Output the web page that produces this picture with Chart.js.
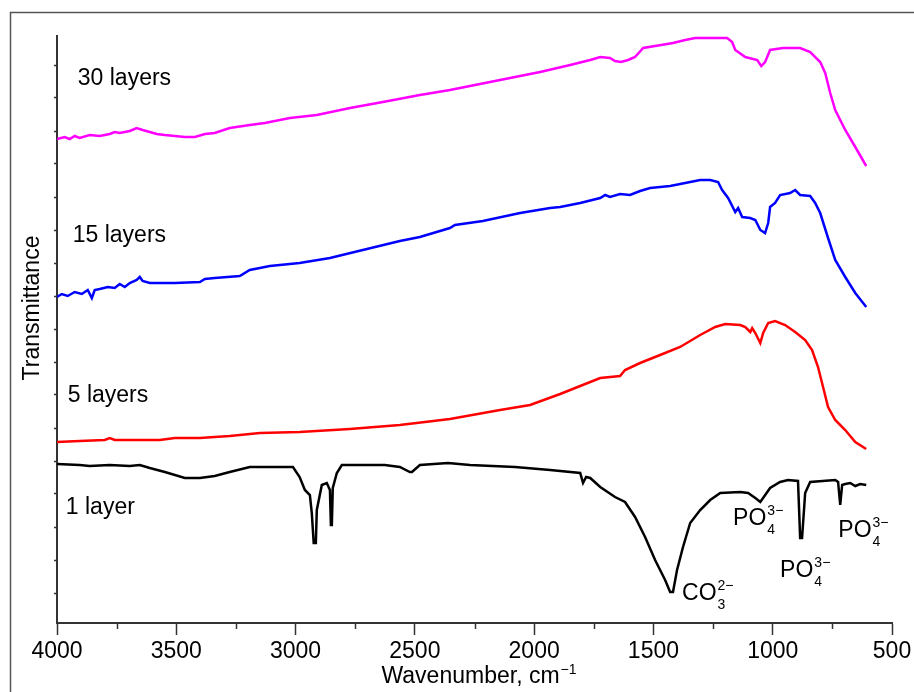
<!DOCTYPE html>
<html>
<head>
<meta charset="utf-8">
<title>FTIR spectra</title>
<script src="https://cdn.jsdelivr.net/npm/chart.js@4.4.1/dist/chart.umd.min.js"></script>
<style>
  html, body { margin: 0; padding: 0; background: #fff; overflow: hidden; width: 914px; height: 692px; }
  #wrap { position: absolute; left: 0; top: 0; width: 960px; height: 692px; }
</style>
</head>
<body>
<div id="wrap"><canvas id="c" width="960" height="692"></canvas></div>
<script>
// Wavenumber (cm-1) and offset transmittance (a.u.) for each coating
const wn30 = [4000,3968,3947,3926,3905,3863,3821,3779,3758,3737,3695,3666,3641,3611,3582,3548,3506,3464,3422,3380,3339,3276,3192,3129,3024,2911,2772,2634,2479,2353,2227,2101,1975,1849,1765,1723,1682,1661,1636,1606,1577,1543,1493,1418,1367,1325,1262,1191,1170,1157,1115,1065,1048,1032,1011,957,885,843,801,780,759,738,696,654,608];
const t30  = [484,486,484,487,485,488,487,489,491,490,492,495,493,491,489,488,487,486,486,489,490,495,498,500,505,508,515,521,528,533,539,545,551,558,563,566,565,562,561,563,566,575,577,580,583,585,585,585,581,573,566,563,557,561,573,575,575,571,561,550,530,513,493,476,457];

const wn15 = [4000,3980,3955,3926,3896,3871,3854,3842,3821,3787,3758,3737,3716,3695,3666,3653,3641,3611,3569,3506,3401,3380,3339,3234,3192,3108,2983,2856,2701,2563,2479,2353,2332,2215,2059,1933,1891,1807,1723,1702,1682,1640,1598,1556,1514,1472,1430,1388,1346,1304,1262,1229,1212,1187,1157,1145,1128,1094,1073,1052,1032,1019,1011,990,969,927,906,885,843,822,801,768,738,696,654,608];
const t15  = [326,329,327,331,329,333,325,333,334,336,335,339,336,340,343,346,342,340,340,340,341,344,345,347,353,357,360,365,374,382,386,395,398,402,410,415,416,420,425,428,426,429,428,432,435,436,437,439,441,443,443,441,433,425,411,415,406,405,403,393,390,400,416,420,428,430,433,428,427,420,410,385,363,346,330,316];

const wn5 = [4000,3905,3800,3779,3758,3569,3506,3401,3276,3150,2983,2772,2563,2353,2143,2017,1891,1807,1723,1640,1619,1556,1472,1388,1304,1241,1199,1136,1115,1094,1086,1073,1052,1040,1019,990,948,906,864,835,810,789,768,738,696,654,608];
const t5  = [181,182,183,185,183,183,185,185,187,190,191,194,198,204,213,218,229,237,245,247,253,260,268,276,288,296,299,298,296,291,295,290,280,290,300,302,298,291,283,273,256,236,216,203,193,181,174];

const wn1 = [4000,3905,3863,3779,3695,3653,3611,3548,3464,3401,3339,3276,3192,3011,2983,2961,2940,2932,2924,2915,2911,2890,2869,2856,2852,2848,2844,2827,2806,2626,2563,2521,2512,2479,2361,2269,2080,1933,1807,1795,1782,1765,1723,1661,1619,1577,1535,1493,1451,1430,1418,1401,1376,1346,1304,1262,1220,1136,1103,1073,1052,1011,969,936,894,885,877,864,843,738,726,717,709,696,675,654,633,608];
const t1  = [159,158,157,158,157,158,155,151,145,145,147,151,156,156,146,133,128,110,80,80,113,138,140,133,98,98,135,150,158,158,156,151,151,158,160,158,156,153,150,140,146,145,136,126,121,106,86,63,43,31,31,53,76,100,113,123,130,131,130,125,121,135,141,143,142,85,85,130,141,143,141,118,138,139,140,137,139,138];

const xTicks = [4000,3500,3000,2500,2000,1500,1000,500];
const xMinor = [3750,3250,2750,2250,1750,1250,750];

const seriesNames = ['30 layers','15 layers','5 layers','1 layer'];
const seriesColors = ['#ff00ff','#0000ff','#ff0000','#000000'];
// where each series name sits (wavenumber, transmittance)
const nameWn = [3913,3934,3955,3963];
const nameT  = [544,387,227,115];

// band assignments: main text, subscript, superscript, anchor
const bandMain = ['CO','PO','PO','PO'];
const bandSub  = ['3','4','4','4'];
const bandSup  = ['2\u2212','3\u2212','3\u2212','3\u2212'];
const bandWn   = [1380,1166,969,725];
const bandT    = [29,104,52,92];

const FONT = '"Liberation Sans", Arial, Helvetica, sans-serif';

function pts(xs, ys) { return xs.map((v, i) => ({ x: v, y: ys[i] })); }

const frame = {
  id: 'frame',
  beforeDraw(chart) {
    const { ctx } = chart;
    ctx.save();
    ctx.strokeStyle = '#555';
    ctx.lineWidth = 1.5;
    ctx.beginPath();
    ctx.moveTo(10.5, 700);
    ctx.lineTo(10.5, 12.5);
    ctx.lineTo(960, 12.5);
    ctx.stroke();
    ctx.restore();
  }
};

const annotate = {
  id: 'annotate',
  afterDraw(chart) {
    const { ctx, scales: { x, y } } = chart;
    ctx.save();
    // minor ticks on the wavenumber axis
    ctx.strokeStyle = '#333';
    ctx.lineWidth = 1.5;
    const yb = y.getPixelForValue(0);
    xMinor.forEach(v => {
      const px = Math.round(x.getPixelForValue(v)) + 0.5;
      ctx.beginPath();
      ctx.moveTo(px, yb);
      ctx.lineTo(px, yb + 6);
      ctx.stroke();
    });

    ctx.fillStyle = '#000';
    ctx.textBaseline = 'middle';
    ctx.textAlign = 'left';
    ctx.font = '23px ' + FONT;
    seriesNames.forEach((n, i) => {
      ctx.fillText(n, x.getPixelForValue(nameWn[i]), y.getPixelForValue(nameT[i]));
    });

    bandMain.forEach((m, i) => {
      const px = x.getPixelForValue(bandWn[i]);
      const py = y.getPixelForValue(bandT[i]);
      ctx.font = '23px ' + FONT;
      ctx.fillText(m, px, py);
      const w = ctx.measureText(m).width;
      ctx.font = '14px ' + FONT;
      ctx.fillText(bandSup[i], px + w + 1, py - 8);
      ctx.fillText(bandSub[i], px + w + 1, py + 11);
    });

    // axis titles
    ctx.font = '23px ' + FONT;
    const t1 = 'Wavenumber, cm';
    const w1 = ctx.measureText(t1).width;
    ctx.font = '14px ' + FONT;
    const w2 = ctx.measureText('\u22121').width;
    const cx = (x.left + x.right) / 2 + 4;
    const sx = cx - (w1 + w2) / 2;
    ctx.font = '23px ' + FONT;
    ctx.fillText(t1, sx, 677);
    ctx.font = '14px ' + FONT;
    ctx.fillText('\u22121', sx + w1 + 1, 670);

    ctx.translate(33, 308);
    ctx.rotate(-Math.PI / 2);
    ctx.textAlign = 'center';
    ctx.font = '23px ' + FONT;
    ctx.fillText('Transmittance', 0, 0);
    ctx.restore();
  }
};

const datasets = [
  { label: seriesNames[0], data: pts(wn30, t30) },
  { label: seriesNames[1], data: pts(wn15, t15) },
  { label: seriesNames[2], data: pts(wn5, t5) },
  { label: seriesNames[3], data: pts(wn1, t1) }
].map((d, i) => Object.assign(d, {
  borderColor: seriesColors[i],
  backgroundColor: seriesColors[i],
  borderWidth: 2.5,
  pointRadius: 0,
  tension: 0,
  fill: false
}));

new Chart(document.getElementById('c'), {
  type: 'line',
  data: { datasets },
  options: {
    responsive: false,
    animation: false,
    devicePixelRatio: 1,
    layout: { padding: { left: 10, top: 36, right: 68, bottom: 0 } },
    plugins: { legend: { display: false }, tooltip: { enabled: false } },
    scales: {
      x: {
        type: 'linear',
        reverse: true,
        min: 500,
        max: 4000,
        afterBuildTicks(s) { s.ticks = xTicks.map(v => ({ value: v })); },
        afterFit(s) { s.height = 69; },
        ticks: {
          color: '#000',
          font: { family: FONT, size: 23 },
          padding: 3,
          maxRotation: 0,
          autoSkip: false,
          callback: v => String(v)
        },
        grid: { drawOnChartArea: false, drawTicks: true, tickLength: 12, tickColor: '#333', tickWidth: 1.5 },
        border: { color: '#333', width: 2 }
      },
      y: {
        type: 'linear',
        min: 0,
        max: 587,
        afterBuildTicks(s) {
          s.ticks = [30,63,96,129,162,195,228,261,294,327,360,393,426,459,492,525,558].map(v => ({ value: v }));
        },
        afterFit(s) { s.width = 47; },
        ticks: { display: false },
        grid: { drawOnChartArea: false, drawTicks: true, tickLength: 3, tickColor: '#333', tickWidth: 1.5 },
        border: { color: '#333', width: 2 }
      }
    }
  },
  plugins: [frame, annotate]
});
</script>
</body>
</html>
